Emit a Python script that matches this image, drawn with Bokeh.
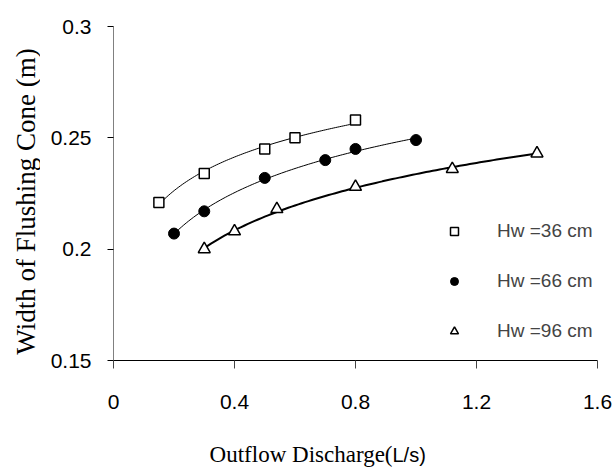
import numpy as np
from bokeh.plotting import figure
from bokeh.layouts import row, column
from bokeh.models import Range1d, FixedTicker, Label, Legend, LegendItem
from bokeh.embed import file_html
from bokeh.resources import INLINE

# Data
x36 = [0.15, 0.30, 0.50, 0.60, 0.80]
y36 = [0.221, 0.234, 0.245, 0.250, 0.258]
x66 = [0.20, 0.30, 0.50, 0.70, 0.80, 1.00]
y66 = [0.207, 0.217, 0.232, 0.240, 0.245, 0.249]
x96 = [0.30, 0.40, 0.54, 0.80, 1.12, 1.40]
y96 = [0.200, 0.208, 0.218, 0.228, 0.236, 0.243]
series_labels = ["Hw =36 cm", "Hw =66 cm", "Hw =96 cm"]
x_ticks = [0, 0.4, 0.8, 1.2, 1.6]
y_ticks = [0.15, 0.2, 0.25, 0.3]
x_title = ["Outflow Discharge(", "L/s)"]
y_title = "Width of Flushing Cone (m)"

LEFT_W = 40
MAIN_H = 420
BOTTOM_H = 49

p = figure(width=574, height=MAIN_H, output_backend="svg", toolbar_location=None,
           x_range=Range1d(0, 1.6), y_range=Range1d(0.15, 0.3),
           frame_width=484, frame_height=334,
           min_border_left=73, min_border_top=26, min_border_right=17, min_border_bottom=60)
p.outline_line_color = None
p.grid.visible = False
p.background_fill_color = "white"
p.border_fill_color = "white"

p.xaxis.ticker = FixedTicker(ticks=x_ticks)
p.yaxis.ticker = FixedTicker(ticks=y_ticks)
p.xaxis.major_label_overrides = {0: "0", 0.4: "0.4", 0.8: "0.8", 1.2: "1.2", 1.6: "1.6"}
p.yaxis.major_label_overrides = {0.15: "0.15", 0.2: "0.2", 0.25: "0.25", 0.3: "0.3"}
for ax in (p.xaxis, p.yaxis):
    ax.major_label_text_font = "Liberation Sans"
    ax.major_label_text_font_size = "21px"
    ax.major_label_text_color = "black"
    ax.minor_tick_line_color = None
    ax.major_tick_in = 0
p.xaxis.axis_line_color = "black"
p.xaxis.major_tick_line_color = "#444444"
p.xaxis.major_tick_out = 8
p.xaxis.major_label_standoff = 26
p.yaxis.axis_line_color = "#808080"
p.yaxis.major_tick_line_color = "black"
p.yaxis.major_tick_out = 6
p.yaxis.major_label_standoff = 16


def log_fit(xs, ys):
    a, b = np.polyfit(np.log(xs), ys, 1)
    xx = np.linspace(min(xs), max(xs), 100)
    return xx, a * np.log(xx) + b

for xs, ys, w in ((x36, y36, 1), (x66, y66, 1), (x96, y96, 2)):
    xx, yy = log_fit(xs, ys)
    p.line(xx, yy, line_color="black", line_width=w)

r1 = p.scatter(x36, y36, marker="square", size=10, fill_color="white", line_color="black", line_width=1.5)
r2 = p.scatter(x66, y66, marker="circle", size=11, fill_color="black", line_color="black")
r3 = p.scatter(x96, y96, marker="triangle", size=12, fill_color="white", line_color="black", line_width=1.5)

legend = Legend(items=[LegendItem(label=series_labels[0], renderers=[r1]),
                       LegendItem(label=series_labels[1], renderers=[r2]),
                       LegendItem(label=series_labels[2], renderers=[r3])],
                location=(331, 18), glyph_width=20, glyph_height=20, label_standoff=33,
                spacing=28, padding=0, margin=0, border_line_color=None,
                background_fill_alpha=0, label_text_font="Liberation Sans",
                label_text_font_size="19px", label_height=20)
p.add_layout(legend)


def blank(w, h):
    f = figure(width=w, height=h, output_backend="svg", toolbar_location=None,
               x_axis_location=None, y_axis_location=None, min_border=0,
               x_range=Range1d(0, 1), y_range=Range1d(0, 1))
    f.outline_line_color = None
    f.grid.visible = False
    f.border_fill_color = "white"
    f.background_fill_color = "white"
    return f

# left strip holding the y-axis title (its frame is aligned with the main frame)
ly = blank(LEFT_W, MAIN_H)
ly.add_layout(Label(x=25, y=159, x_units="screen", y_units="screen",
                    text=y_title, angle=np.pi / 2,
                    text_align="center", text_baseline="middle", text_font="Liberation Serif",
                    text_font_size="27px", text_color="black"))

# bottom strip holding the x-axis title
bx = blank(614, BOTTOM_H)
bx.add_layout(Label(x=392, y=BOTTOM_H - (454 - MAIN_H), x_units="screen", y_units="screen",
                    text=x_title[0], text_align="right", text_baseline="middle",
                    text_font="Liberation Serif", text_font_size="23px", text_color="black"))
bx.add_layout(Label(x=392, y=BOTTOM_H - (454 - MAIN_H), x_units="screen", y_units="screen",
                    text=x_title[1], text_align="left", text_baseline="middle",
                    text_font="Liberation Sans", text_font_size="20px", text_color="black"))

layout = column(row(ly, p, spacing=0), bx, spacing=0)
open("out.html", "w").write(file_html(layout, INLINE))
